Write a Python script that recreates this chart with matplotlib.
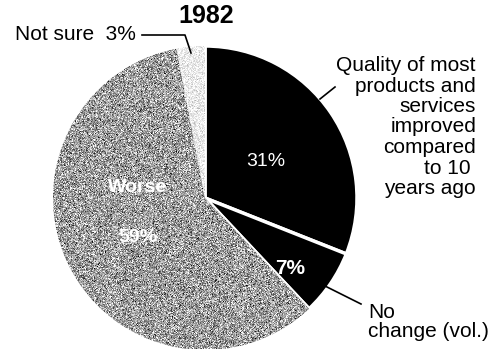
import numpy as np
import matplotlib
matplotlib.use("Agg")
import matplotlib.pyplot as plt

plt.rcParams['font.family'] = ['Liberation Sans', 'DejaVu Sans']

# 1982 poll: quality of products and services vs. 10 years ago
year = "1982"
shares = [31, 7, 59, 3]
names = ["Quality of most\nproducts and\nservices\nimproved\ncompared\nto 10 \nyears ago",
         "No\nchange (vol.)", "Worse", "Not sure"]
fills = ["#000000", "#000000", "#9c9c9c", "#e4e4e4"]

W, H = 500, 349
fig = plt.figure(figsize=(W / 100, H / 100), dpi=100)
ax = fig.add_axes([0, 0, 1, 1])

cx, cy, r = 205, H - 198, 152
wedges, _ = ax.pie(shares, colors=fills, startangle=90, counterclock=False,
                   center=(cx, cy), radius=r, frame=True,
                   wedgeprops=dict(edgecolor="white", linewidth=2.5))

# halftone grain on the two grey slices
rng = np.random.default_rng(7)
for w, base, spread in [(wedges[2], 0.62, 0.2), (wedges[3], 0.92, 0.08)]:
    grain = np.clip(base + spread * rng.standard_normal((H, W)), 0, 1)
    im = ax.imshow(grain, cmap="gray", vmin=0, vmax=1, extent=[0, W, 0, H],
                   interpolation="nearest", zorder=w.get_zorder() + 0.1)
    im.set_clip_path(w)

ax.set_xlim(0, W)
ax.set_ylim(0, H)
ax.set_aspect("equal")
ax.axis("off")

ax.text(206, H - 16, year, ha="center", va="center", fontsize=18,
        fontweight="bold")

# slice values
ax.text(266, H - 162, f"{shares[0]}%", color="white", fontsize=14,
        ha="center", va="center", zorder=5)
ax.text(290, H - 268, f"{shares[1]}%", color="white", fontsize=15,
        fontweight="bold", ha="center", va="center", zorder=5)
ax.text(138, H - 188, names[2], color="white", fontsize=14,
        fontweight="bold", ha="center", va="center", zorder=5)
ax.text(138, H - 238, f"{shares[2]}%", color="white", fontsize=14,
        fontweight="bold", ha="center", va="center", zorder=5)

# outside labels with leader lines
ax.text(476, H - 127, names[0], ha="right", va="center", fontsize=15,
        linespacing=1.1)
ax.plot([335, 320], [H - 87, H - 99], color="black", lw=1.2)

ax.text(368, H - 322, names[1], ha="left", va="center", fontsize=15,
        linespacing=1.05)
ax.plot([319, 361], [H - 283, H - 304], color="black", lw=1.2)

ax.text(15, H - 35, f"{names[3]}  {shares[3]}%", ha="left", va="center",
        fontsize=15)
ax.plot([142, 185, 191], [H - 35, H - 35, H - 53], color="black", lw=1.2)

fig.savefig("out.png", dpi=100)
